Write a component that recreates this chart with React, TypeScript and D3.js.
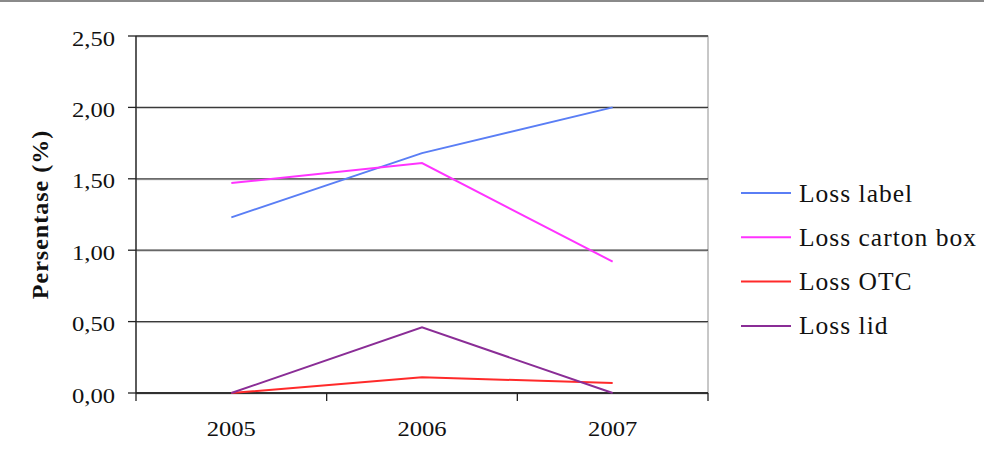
import React from "react";
import * as d3 from "d3";

const years = ["2005", "2006", "2007"];
const lossLabel = [1.23, 1.68, 2.0];
const lossCartonBox = [1.47, 1.61, 0.92];
const lossOTC = [0.0, 0.11, 0.07];
const lossLid = [0.0, 0.46, 0.0];
const yTicks = [0, 0.5, 1, 1.5, 2, 2.5];

const seriesNames = ["Loss label", "Loss carton box", "Loss OTC", "Loss lid"];
const seriesColors = ["#5a7ef5", "#ff33ff", "#ff2a2a", "#8a2d96"];

export default function App() {
  const width = 984;
  const height = 450;
  const left = 136, right = 708, top = 36, bottom = 393;

  const x = d3.scaleBand().domain(years).range([left, right]);
  const y = d3.scaleLinear().domain([0, 2.5]).range([bottom, top]);
  const fmt = (v: number) => d3.format(".2f")(v).replace(".", ",");

  const line = d3
    .line<number>()
    .x((d, i) => (x(years[i]) as number) + x.bandwidth() / 2)
    .y((d) => y(d));

  const allSeries = [lossLabel, lossCartonBox, lossOTC, lossLid];
  const font = "'Liberation Serif', 'Times New Roman', serif";

  return (
    <svg
      width={width}
      height={height}
      style={{ position: "absolute", left: 0, top: 0, background: "#fff" }}
    >
      <rect x={0} y={0} width={width} height={2} fill="#8a8a8a" />
      {/* plot border */}
      <rect x={left} y={top} width={right - left} height={bottom - top} fill="none" stroke="#909090" strokeWidth={1} />
      {/* gridlines */}
      {yTicks.map((t) => (
        <g key={t}>
          <line x1={left} x2={right} y1={y(t) + 1} y2={y(t) + 1} stroke="#c8c8c8" strokeWidth={1} />
          <line x1={left} x2={right} y1={y(t)} y2={y(t)} stroke="#3a3a3a" strokeWidth={1.3} />
        </g>
      ))}
      {/* y axis */}
      <line x1={left} x2={left} y1={top} y2={bottom} stroke="#222" strokeWidth={1.3} />
      {yTicks.map((t) => (
        <g key={"yt" + t}>
          <line x1={left - 8} x2={left} y1={y(t)} y2={y(t)} stroke="#222" strokeWidth={1.3} />
          <text
            transform={`translate(${left - 21}, ${y(t) + 9.5}) scale(1.2, 1)`}
            textAnchor="end"
            fontFamily={font}
            fontSize={20.5}
            fill="#111"
          >
            {fmt(t)}
          </text>
        </g>
      ))}
      {/* x axis */}
      <line x1={left} x2={right} y1={bottom} y2={bottom} stroke="#222" strokeWidth={1.3} />
      {[...years.map((yr) => x(yr) as number), right].map((px, i) => (
        <line key={"xt" + i} x1={px} x2={px} y1={bottom} y2={bottom + 8} stroke="#222" strokeWidth={1.3} />
      ))}
      {years.map((yr) => (
        <text
          key={yr}
          transform={`translate(${(x(yr) as number) + x.bandwidth() / 2}, 436) scale(1.2, 1)`}
          textAnchor="middle"
          fontFamily={font}
          fontSize={20.5}
          fill="#111"
        >
          {yr}
        </text>
      ))}
      {/* y title */}
      <text
        transform={`translate(48, ${(top + bottom) / 2}) rotate(-90)`}
        textAnchor="middle"
        fontFamily={font}
        fontSize={24}
        fontWeight="bold"
        letterSpacing={1}
        fill="#111"
      >
        Persentase (%)
      </text>
      {/* lines */}
      {allSeries.map((s, i) => (
        <path key={seriesNames[i]} d={line(s) || ""} fill="none" stroke={seriesColors[i]} strokeWidth={2} />
      ))}
      {/* legend */}
      {seriesNames.map((n, i) => {
        const ly = 193 + i * 44.3;
        return (
          <g key={"lg" + n}>
            <line x1={741} x2={791} y1={ly} y2={ly} stroke={seriesColors[i]} strokeWidth={2} />
            <text x={799} y={ly + 8.5} fontFamily={font} fontSize={25.5} letterSpacing={1} fill="#111">
              {n}
            </text>
          </g>
        );
      })}
    </svg>
  );
}
